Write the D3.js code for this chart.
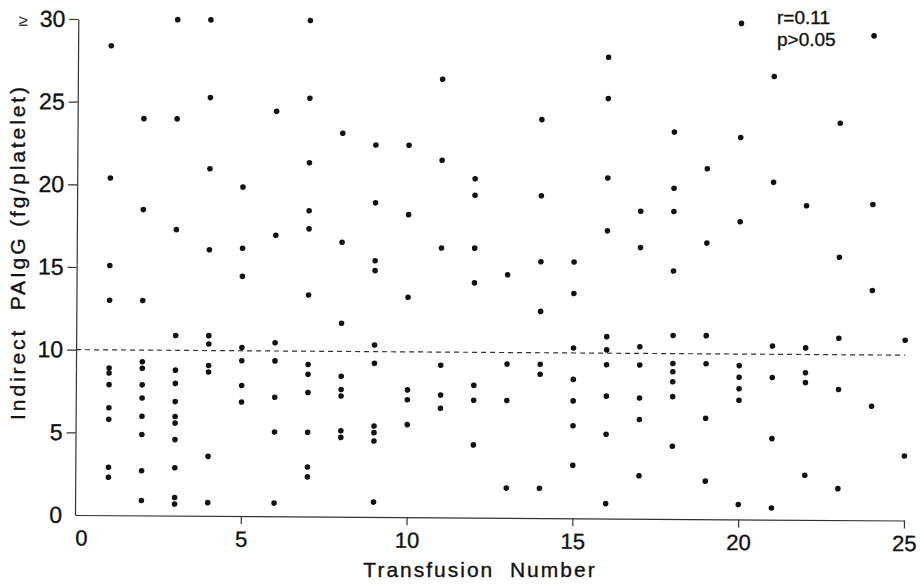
<!DOCTYPE html>
<html>
<head>
<meta charset="utf-8">
<script src="https://cdn.jsdelivr.net/npm/d3@7"></script>
<style>
  html, body { margin: 0; padding: 0; background: #fff; }
  svg { display: block; font-family: "Liberation Sans", Arial, Helvetica, sans-serif; }
  text { stroke: #111; stroke-width: 0.35px; }
</style>
</head>
<body>
<svg id="chart" width="921" height="586"></svg>
<script>
// Transfusion number on x, indirect PAIgG (fg/platelet) values measured at each one
var transfusionNumbers = [1, 2, 3, 4, 5, 6, 7, 8, 9, 10, 11, 12, 13,
                          14, 15, 16, 17, 18, 19, 20, 21, 22, 23, 24, 25];

var paiggValues = [
    [28.4, 20.4, 15.1, 13.0, 8.9, 8.6, 7.9, 6.5, 5.8, 2.9, 2.3],          // 1
    [24.0, 18.5, 13.0, 9.3, 8.9, 7.9, 7.1, 6.0, 4.9, 2.7, 0.9],           // 2
    [30, 24.0, 17.3, 10.9, 8.8, 8.0, 6.9, 6.0, 5.6, 4.6, 2.9, 1.1, 0.7],  // 3
    [30, 25.3, 21.0, 16.1, 10.9, 10.4, 9.1, 8.7, 3.6, 0.8],               // 4
    [19.9, 16.2, 14.5, 10.2, 9.4, 7.9, 6.9],                              // 5
    [24.5, 17.0, 10.5, 9.4, 7.2, 5.1, 0.8],                               // 6
    [30, 25.3, 21.4, 18.5, 17.4, 13.4, 9.2, 8.6, 7.5, 5.1, 3.0, 2.4],     // 7
    [23.2, 16.6, 11.7, 8.5, 7.7, 7.3, 5.2, 4.8],                          // 8
    [22.5, 19.0, 15.5, 14.9, 10.4, 9.3, 5.5, 5.1, 4.6, 0.9],              // 9
    [22.5, 18.3, 13.3, 7.7, 7.1, 5.6],                                    // 10
    [26.5, 21.6, 16.3, 9.2, 7.4, 6.6],                                    // 11
    [20.5, 19.5, 16.3, 14.2, 8.0, 7.1, 4.4],                              // 12
    [14.7, 9.3, 7.1, 1.8],                                                // 13
    [24.1, 19.5, 15.5, 12.5, 9.3, 8.7, 1.8],                              // 14
    [15.5, 13.6, 10.3, 8.4, 7.1, 5.6, 3.2],                               // 15
    [27.9, 25.4, 20.6, 17.4, 11.0, 10.2, 9.3, 7.4, 5.1, 0.9],             // 16
    [18.6, 16.4, 10.4, 9.3, 7.3, 6.0, 2.6],                               // 17
    [23.4, 20.0, 18.6, 15.0, 11.1, 9.4, 8.9, 8.3, 7.4, 4.4],              // 18
    [21.2, 16.7, 11.1, 9.4, 6.1, 2.3],                                    // 19
    [30, 23.1, 18.0, 9.3, 8.6, 7.9, 7.2, 0.9],                            // 20
    [26.8, 20.4, 10.5, 8.6, 4.9, 0.7],                                    // 21
    [19.0, 10.4, 8.9, 8.3, 2.7],                                          // 22
    [24.0, 15.9, 11.0, 7.9, 1.9],                                         // 23
    [29.3, 19.1, 13.9, 6.9],                                              // 24
    [10.9, 3.9]                                                           // 25
];

var xTickValues = [0, 5, 10, 15, 20, 25];
var yTickValues = [0, 5, 10, 15, 20, 25, 30];
var cutoffValue = 10;
var statLines = ["r=0.11", "p>0.05"];

var svg = d3.select("#chart");

var x = d3.scaleLinear().domain([0, 25]).range([75, 904]);
var y = d3.scaleLinear().domain([0, 30]).range([515, 19]);

// Flatten to one record per dot
var points = [];
transfusionNumbers.forEach(function (t, i) {
    paiggValues[i].forEach(function (v) {
        points.push({ t: t, v: v });
    });
});

// The printed figure sits a bit crooked on the page, keep that small tilt
var plot = svg.append("g")
    .attr("transform", "rotate(0.38," + x(0) + "," + y(0) + ")");

var xAxis = plot.append("g")
    .attr("transform", "translate(0," + y(0) + ")")
    .call(d3.axisBottom(x).tickValues(xTickValues)
        .tickSize(8).tickSizeOuter(0).tickPadding(7));

var yAxis = plot.append("g")
    .attr("transform", "translate(" + x(0) + ",0)")
    .call(d3.axisLeft(y).tickValues(yTickValues)
        .tickSize(9).tickSizeOuter(0).tickPadding(4));

xAxis.attr("font-size", 22);
yAxis.attr("font-size", 23);

// Same look for both axes, and no tick marks at the origin
[xAxis, yAxis].forEach(function (ax) {
    ax.attr("font-family", null);
    ax.selectAll(".tick").filter(function (d) { return d === 0; })
        .select("line").remove();
    ax.select("path.domain").attr("stroke", "#333").attr("stroke-width", 1.2);
    ax.selectAll(".tick line").attr("stroke", "#333").attr("stroke-width", 1.2);
    ax.selectAll(".tick text").attr("fill", "#111");
});

// the printed "0" under the x axis sits a little right of the corner
xAxis.selectAll(".tick").filter(function (d) { return d === 0; })
    .select("text").attr("dx", 6);

// "greater or equal" mark in front of the top label
svg.append("text")
    .attr("x", 19)
    .attr("y", 26)
    .attr("font-size", 16)
    .attr("fill", "#333")
    .style("stroke-width", "0.2px")
    .text("\u2265");

// Dashed cut-off line
plot.append("line")
    .attr("x1", x(0))
    .attr("x2", x(25))
    .attr("y1", y(cutoffValue))
    .attr("y2", y(cutoffValue))
    .attr("stroke", "#333")
    .attr("stroke-width", 1.2)
    .attr("stroke-dasharray", "5,4");

// Dots
plot.append("g")
    .selectAll("circle")
    .data(points)
    .join("circle")
    .attr("cx", function (d) { return x(d.t); })
    .attr("cy", function (d) { return y(d.v); })
    .attr("r", 2.8)
    .attr("fill", "#111");

// Axis titles
svg.append("text")
    .attr("x", 480)
    .attr("y", 577)
    .attr("text-anchor", "middle")
    .attr("font-size", 21)
    .attr("fill", "#111")
    .style("letter-spacing", "2px")
    .style("white-space", "pre")
    .text("Transfusion  Number");

svg.append("text")
    .attr("transform", "translate(25,252) rotate(-90)")
    .attr("text-anchor", "middle")
    .attr("font-size", 21)
    .attr("fill", "#111")
    .style("letter-spacing", "2.9px")
    .style("white-space", "pre")
    .text("Indirect  PAIgG (fg/platelet)");

// Correlation note, top right
svg.append("g")
    .selectAll("text")
    .data(statLines)
    .join("text")
    .attr("x", 777)
    .attr("y", function (d, i) { return 24 + i * 21.5; })
    .attr("font-size", 19)
    .attr("fill", "#111")
    .text(function (d) { return d; });
</script>
</body>
</html>
